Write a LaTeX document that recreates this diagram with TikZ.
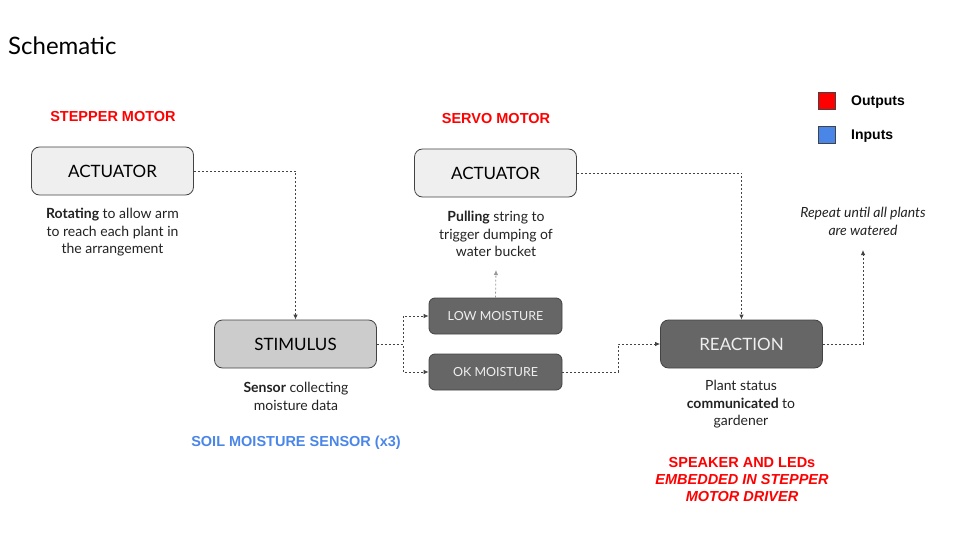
\documentclass[tikz,border=0pt]{standalone}
\usepackage{fontspec}
\setmainfont{Lato}
\newfontfamily\arialf{Liberation Sans}
\usetikzlibrary{arrows.meta}
\definecolor{boxlight}{HTML}{EFEFEF}
\definecolor{boxmid}{HTML}{CCCCCC}
\definecolor{boxdark}{HTML}{666666}
\definecolor{edgec}{HTML}{434343}
\definecolor{txtc}{HTML}{222222}
\definecolor{redc}{HTML}{FF0000}
\definecolor{bluec}{HTML}{4A86E8}
\definecolor{linec}{HTML}{444444}
\definecolor{lightline}{HTML}{999999}
\tikzset{
  bigbox/.style={draw=edgec, line width=0.8pt, rounded corners=8pt, minimum width=162pt, minimum height=48pt, font=\fontsize{17}{20}\selectfont, inner sep=0pt},
  smallbox/.style={draw=edgec, line width=0.8pt, rounded corners=6pt, fill=boxdark, text=boxlight, minimum width=133pt, minimum height=36pt, font=\fontsize{12.5}{15}\selectfont, inner sep=0pt},
  desc/.style={align=center, text=txtc, font=\fontsize{14}{17.5}\selectfont, inner sep=0pt},
  tag/.style={align=center, font=\arialf\bfseries\fontsize{14.5}{17}\selectfont, inner sep=0pt},
  conn/.style={draw=linec, line width=0.8pt, dash pattern=on 2pt off 2pt, -{Latex[length=5pt,width=4.5pt]}},
  legsq/.style={draw=edgec, line width=0.6pt, minimum width=17pt, minimum height=17pt, inner sep=0pt}
}
\begin{document}
\begin{tikzpicture}[x=1pt,y=-1pt]
\useasboundingbox (0,0) rectangle (960,540);
\node[anchor=base west, font=\fontsize{24}{28}\selectfont, text=black, inner sep=0pt] (title) at (8,55) {Schematic};

% legend
\node[legsq, fill=redc] (lo) at (826.5,101) {};
\node[anchor=west, font=\arialf\bfseries\fontsize{14}{17}\selectfont, inner sep=0pt] (lot) at (851,102) {Outputs};
\node[legsq, fill=bluec] (li) at (826.5,135) {};
\node[anchor=west, font=\arialf\bfseries\fontsize{14}{17}\selectfont, inner sep=0pt] (lit) at (851,136) {Inputs};

% actuator 1
\node[tag, text=redc] (stepper) at (113,117) {STEPPER MOTOR};
\node[bigbox, fill=boxlight] (act1) at (112.5,171) {ACTUATOR};
\node[desc, anchor=north] (act1d) at (112.5,208) {\textbf{Rotating} to allow arm\\to reach each plant in\\the arrangement};

% actuator 2
\node[tag, text=redc] (servo) at (496,119) {SERVO MOTOR};
\node[bigbox, fill=boxlight] (act2) at (495.5,173) {ACTUATOR};
\node[desc, anchor=north] (act2d) at (496,211) {\textbf{Pulling} string to\\trigger dumping of\\water bucket};

% stimulus
\node[bigbox, fill=boxmid] (stim) at (295.5,344) {STIMULUS};
\node[desc, anchor=north] (stimd) at (296,382) {\textbf{Sensor} collecting\\moisture data};
\node[tag, text=bluec] (soil) at (296,443) {SOIL MOISTURE SENSOR (x3)};

% moisture boxes
\node[smallbox] (low) at (495.5,316) {LOW MOISTURE};
\node[smallbox] (ok) at (495.5,372) {OK MOISTURE};

% reaction
\node[bigbox, fill=boxdark, text=boxlight] (react) at (741.5,344) {REACTION};
\node[desc, anchor=north] (reactd) at (741,380) {Plant status\\\textbf{communicated} to\\gardener};
\node[tag, text=redc, align=center] (spk) at (742,480) {SPEAKER AND LEDs\\\textit{EMBEDDED IN STEPPER}\\\textit{MOTOR DRIVER}};

% repeat
\node[desc, font=\itshape\fontsize{14}{17.5}\selectfont, text=txtc] (rep) at (863,221.5) {Repeat until all plants\\are watered};
\coordinate (repend) at (863,250);
\coordinate (lowend) at (496,270);

% connectors
\draw[conn] (act1.east) -| (stim.north);
\draw[conn] (act2.east) -| (react.north);
\draw[conn] (stim.east) -- ++(26,0) |- (low.west);
\draw[conn] (stim.east) -- ++(26,0) |- (ok.west);
\draw[conn] (ok.east) -- ++(56,0) |- (react.west);
\draw[conn] (react.east) -| (repend);
\draw[conn, draw=lightline] (low.north) -- (lowend);
\end{tikzpicture}
\end{document}
